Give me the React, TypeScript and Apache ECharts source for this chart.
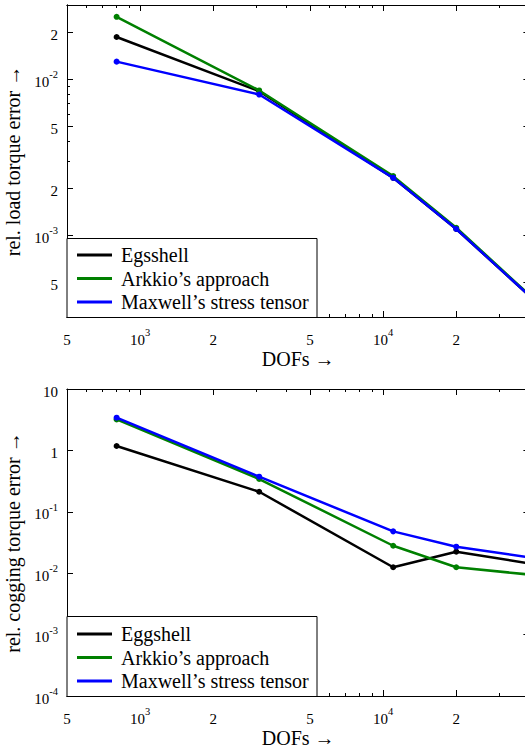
import React, { useEffect, useRef } from "react";
import * as echarts from "echarts";

// ---- data ----
const DOFS = [800, 3090, 11000, 20000, 40000];

const LOAD_EGGSHELL = [0.0187, 0.0084, 0.00234, 0.0011, 0.00041];
const LOAD_ARKKIO = [0.0252, 0.0085, 0.0024, 0.00112, 0.000415];
const LOAD_MAXWELL = [0.013, 0.008, 0.00234, 0.0011, 0.00041];

const COG_EGGSHELL = [1.18, 0.212, 0.0125, 0.0224, 0.0144];
const COG_ARKKIO = [3.2, 0.342, 0.028, 0.0125, 0.0095];
const COG_MAXWELL = [3.41, 0.373, 0.048, 0.027, 0.0181];

const NAMES_TOP = ["Egsshell", "Arkkio’s approach", "Maxwell’s stress tensor"];
const NAMES_BOTTOM = ["Eggshell", "Arkkio’s approach", "Maxwell’s stress tensor"];
const COLORS = ["#000000", "#008000", "#0000ff"];

const X_RANGE = [500, 40000];
const X_MAJOR = [500, 1000, 2000, 5000, 10000, 20000];
const X_MINOR = [600, 700, 800, 900, 3000, 4000, 6000, 7000, 8000, 9000, 30000, 40000];

const Y_TOP_RANGE = [0.0003, 0.03];
const Y_TOP_MAJOR = [0.0005, 0.001, 0.002, 0.005, 0.01, 0.02];
const Y_TOP_MINOR = [0.0003, 0.0004, 0.0006, 0.0007, 0.0008, 0.0009, 0.003, 0.004, 0.006, 0.007, 0.008, 0.009, 0.03];

const Y_BOT_RANGE = [0.0001, 10];
const Y_BOT_MAJOR = [0.0001, 0.001, 0.01, 0.1, 1, 10];

const X_TITLE = "DOFs →";
const Y_TITLE_TOP = "rel. load torque error →";
const Y_TITLE_BOTTOM = "rel. cogging torque error →";

const FONT = "'Liberation Serif', 'DejaVu Serif', serif";

const lg = (v: number) => Math.log10(v);

function labelFormatter(v: number) {
  const k = Math.round(v);
  if (Math.abs(v - k) < 1e-9) {
    if (k === 0) return "{b|1}";
    if (k === 1) return "{b|10}";
    return `{b|10}{s|${k}}`;
  }
  const f = Math.floor(v);
  const m = Math.round(Math.pow(10, v - f));
  return `{b|${m}}`;
}

const RICH = {
  b: { fontSize: 15, fontFamily: FONT, color: "#000", lineHeight: 20, verticalAlign: "bottom" },
  s: { fontSize: 10.5, fontFamily: FONT, color: "#000", lineHeight: 10, verticalAlign: "top" },
};

const LINE = { color: "#000", width: 1 };
const TITLE_STYLE = { fontSize: 20, fontFamily: FONT, color: "#000", lineHeight: 18 };

function axisBase(grid: number, range: number[]) {
  return {
    type: "value",
    gridIndex: grid,
    min: lg(range[0]),
    max: lg(range[1]),
    splitLine: { show: false },
    axisLine: { show: true, onZero: false, lineStyle: LINE },
  };
}

function xAxes(grid: number) {
  const base = axisBase(grid, X_RANGE);
  const major = X_MAJOR.map(lg);
  const minor = X_MINOR.map(lg);
  return [
    {
      ...base,
      position: "bottom",
      axisTick: { show: true, inside: true, length: 6, customValues: major, lineStyle: LINE },
      axisLabel: { show: true, customValues: major, formatter: labelFormatter, rich: RICH, margin: 10 },
      name: X_TITLE,
      nameLocation: "middle",
      nameGap: 33,
      nameTextStyle: TITLE_STYLE,
    },
    {
      ...base,
      position: "bottom",
      axisTick: { show: true, inside: true, length: 3, customValues: minor, lineStyle: LINE },
      axisLabel: { show: false },
    },
    {
      ...base,
      position: "top",
      axisTick: { show: true, inside: true, length: 6, customValues: major, lineStyle: LINE },
      axisLabel: { show: false },
    },
    {
      ...base,
      position: "top",
      axisTick: { show: true, inside: true, length: 3, customValues: minor, lineStyle: LINE },
      axisLabel: { show: false },
    },
  ];
}

function yAxes(grid: number, range: number[], majorVals: number[], minorVals: number[], title: string) {
  const base = axisBase(grid, range);
  const major = majorVals.map(lg);
  const minor = minorVals.map(lg);
  const axes: any[] = [
    {
      ...base,
      position: "left",
      axisTick: { show: true, inside: true, length: 6, customValues: major, lineStyle: LINE },
      axisLabel: { show: true, customValues: major, formatter: labelFormatter, rich: RICH, margin: 9 },
      name: title,
      nameLocation: "middle",
      nameRotate: 90,
      nameGap: 45,
      nameTextStyle: TITLE_STYLE,
    },
    {
      ...base,
      position: "right",
      axisTick: { show: true, inside: true, length: 6, customValues: major, lineStyle: LINE },
      axisLabel: { show: false },
    },
  ];
  if (minor.length) {
    axes.push(
      {
        ...base,
        position: "left",
        axisTick: { show: true, inside: true, length: 3, customValues: minor, lineStyle: LINE },
        axisLabel: { show: false },
      },
      {
        ...base,
        position: "right",
        axisTick: { show: true, inside: true, length: 3, customValues: minor, lineStyle: LINE },
        axisLabel: { show: false },
      }
    );
  }
  return axes;
}

function makeSeries(names: string[], values: number[][], xIdx: number, yIdx: number) {
  return values.map((vals, i) => ({
    type: "line",
    name: names[i],
    xAxisIndex: xIdx,
    yAxisIndex: yIdx,
    data: DOFS.map((d, j) => [lg(d), lg(vals[j])]),
    symbol: "circle",
    symbolSize: 6,
    showSymbol: true,
    color: COLORS[i],
    lineStyle: { color: COLORS[i], width: 2.5 },
    itemStyle: { color: COLORS[i] },
    z: 2 + i * 0.1,
  }));
}

function legend(names: string[], top: number) {
  return {
    orient: "vertical",
    left: 77,
    top,
    padding: 0,
    itemGap: 3.5,
    itemWidth: 35,
    itemHeight: 3,
    icon: "rect",
    selectedMode: false,
    data: names,
    z: 5,
    textStyle: { fontSize: 20, fontFamily: FONT, color: "#000", lineHeight: 20, padding: [0, 0, 0, 4] },
  };
}

export default function App() {
  const ref = useRef<HTMLDivElement>(null);
  useEffect(() => {
    if (!ref.current) return;
    const chart = echarts.init(ref.current, null, { renderer: "svg" });
    const xTop = xAxes(0);
    const xBot = xAxes(1);
    const yTop = yAxes(0, Y_TOP_RANGE, Y_TOP_MAJOR, Y_TOP_MINOR, Y_TITLE_TOP);
    const yBot = yAxes(1, Y_BOT_RANGE, Y_BOT_MAJOR, [], Y_TITLE_BOTTOM);
    const option: any = {
      animation: false,
      backgroundColor: "#fff",
      grid: [
        { left: 67, top: 5, width: 462.4, height: 312, outerBoundsMode: "none", containLabel: false },
        { left: 67, top: 389, width: 462.4, height: 307, outerBoundsMode: "none", containLabel: false },
      ],
      xAxis: [...xTop, ...xBot],
      yAxis: [...yTop, ...yBot],
      legend: [legend(NAMES_TOP, 245), legend(NAMES_BOTTOM, 624)],
      graphic: [
        {
          type: "rect",
          z: 3,
          shape: { x: 67, y: 238.5, width: 250, height: 79 },
          style: { fill: "#fff", stroke: "#000", lineWidth: 1 },
        },
        {
          type: "rect",
          z: 3,
          shape: { x: 67, y: 616.5, width: 250, height: 80 },
          style: { fill: "#fff", stroke: "#000", lineWidth: 1 },
        },
      ],
      series: [
        ...makeSeries(NAMES_TOP, [LOAD_EGGSHELL, LOAD_ARKKIO, LOAD_MAXWELL], 0, 0),
        ...makeSeries(NAMES_BOTTOM, [COG_EGGSHELL, COG_ARKKIO, COG_MAXWELL], xTop.length, yTop.length),
      ],
    };
    chart.setOption(option);
    return () => chart.dispose();
  }, []);
  return (
    <div
      ref={ref}
      style={{ position: "fixed", left: 0, top: 0, width: 525, height: 748, background: "#fff" }}
    />
  );
}
